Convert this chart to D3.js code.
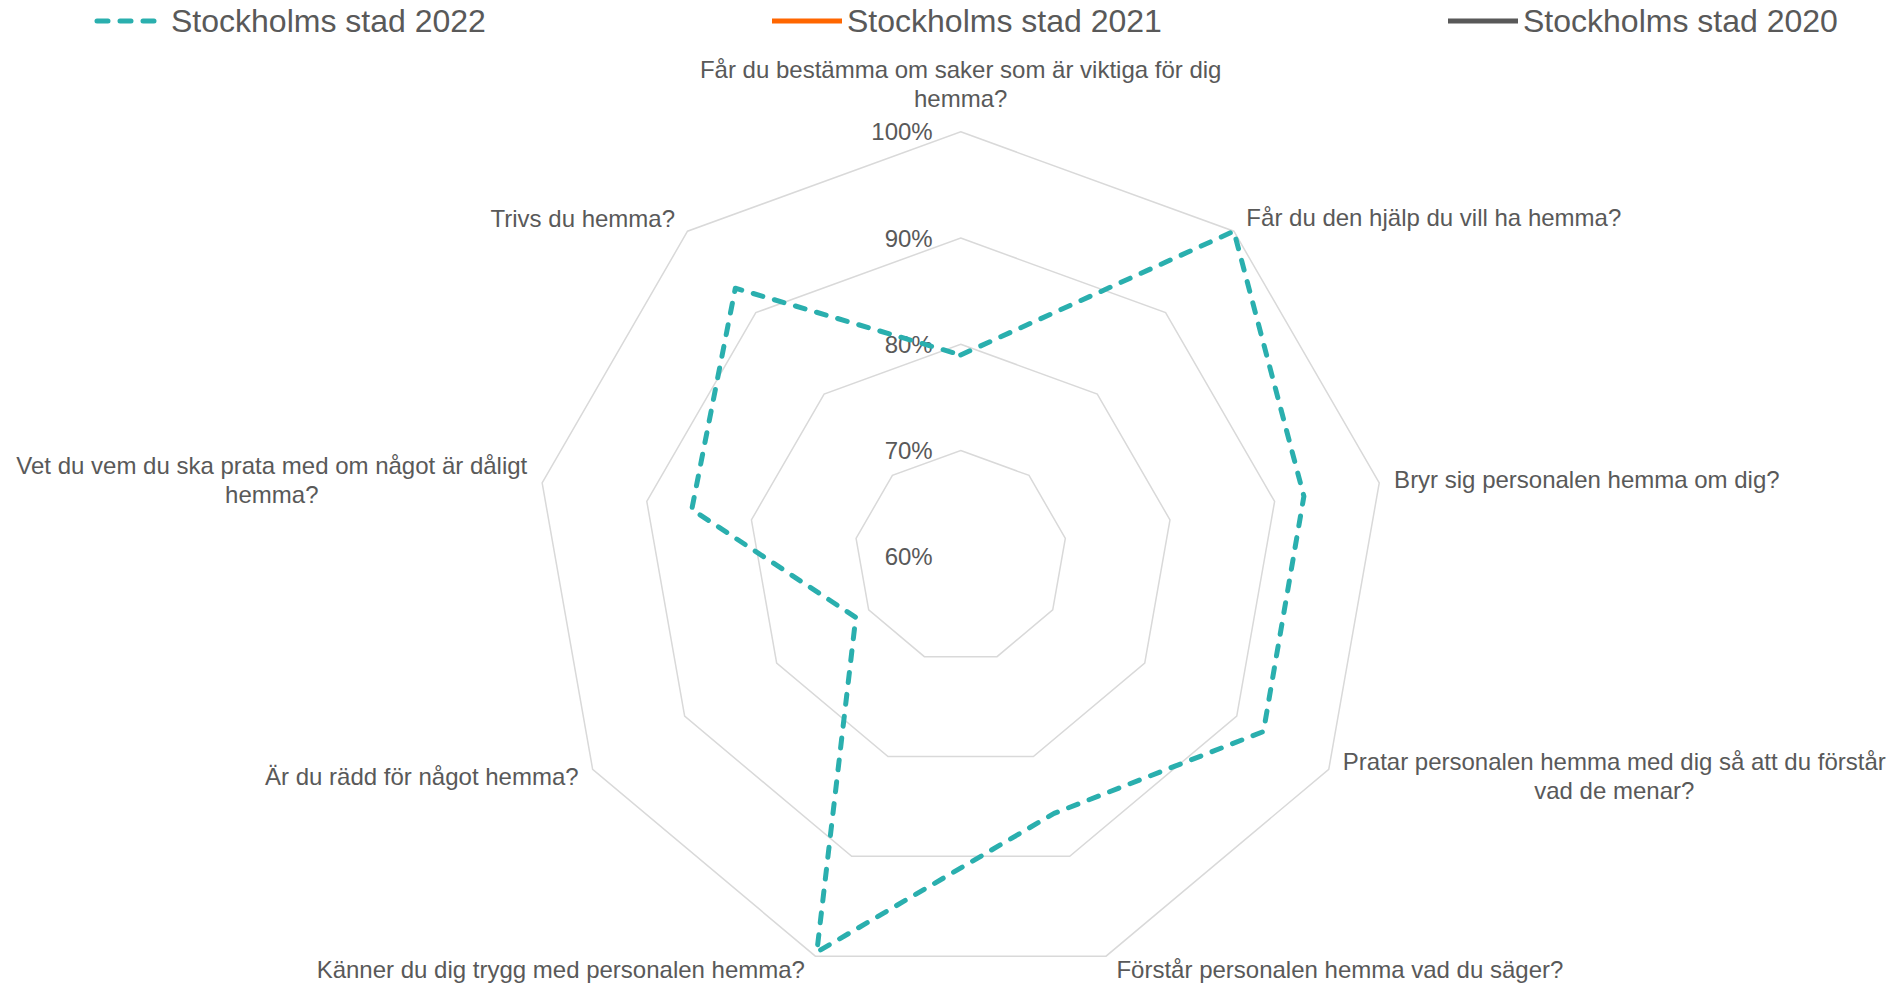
<!DOCTYPE html>
<html>
<head>
<meta charset="utf-8">
<script src="https://cdn.jsdelivr.net/npm/d3@7"></script>
<style>
	body { margin: 0; background: #fff; }
	svg { display: block; font-family: "Liberation Sans", Arial, sans-serif; }
	.grid-ring { fill: none; stroke: #d9d9d9; stroke-width: 1.5; }
	.tick-label, .axis-label, .legend-label { fill: #595959; }
</style>
</head>
<body>
<div id="chart"></div>
<script>
var questions = [
	"Får du bestämma om saker som är viktiga för dig hemma?",
	"Får du den hjälp du vill ha hemma?",
	"Bryr sig personalen hemma om dig?",
	"Pratar personalen hemma med dig så att du förstår vad de menar?",
	"Förstår personalen hemma vad du säger?",
	"Känner du dig trygg med personalen hemma?",
	"Är du rädd för något hemma?",
	"Vet du vem du ska prata med om något är dåligt hemma?",
	"Trivs du hemma?"
];

var values2022 = [0.790, 1.000, 0.928, 0.929, 0.857, 0.996, 0.714, 0.857, 0.930];

var seriesNames = ["Stockholms stad 2022", "Stockholms stad 2021", "Stockholms stad 2020"];
var seriesColors = ["#2aafae", "#ff6600", "#595959"];

var tickValues = [0.6, 0.7, 0.8, 0.9, 1.0];

var chart = {
	width: 1898,
	height: 983,
	cx: 960.7,
	cy: 556.8,
	radius: 425
};

var svg = d3.select("#chart")
	.append("svg")
	.attr("width", chart.width)
	.attr("height", chart.height);

var rScale = d3.scaleLinear()
	.domain([0.6, 1.0])
	.range([0, chart.radius]);

var aScale = d3.scaleLinear()
	.domain([0, questions.length])
	.range([0, 2 * Math.PI]);

var g = svg.append("g")
	.attr("transform", "translate(" + chart.cx + "," + chart.cy + ")");

// grid rings (no spokes in the original)
var ring = d3.lineRadial()
	.angle(function (d, i) { return aScale(i); })
	.radius(function (d) { return rScale(d); })
	.curve(d3.curveLinearClosed);

g.selectAll(".grid-ring")
	.data(tickValues.filter(function (t) { return t > 0.6; }))
	.enter().append("path")
	.attr("class", "grid-ring")
	.attr("d", function (t) { return ring(questions.map(function () { return t; })); });

// tick labels
g.selectAll(".tick-label")
	.data(tickValues)
	.enter().append("text")
	.attr("class", "tick-label")
	.attr("x", -28)
	.attr("y", function (t) { return -rScale(t); })
	.attr("text-anchor", "end")
	.attr("dominant-baseline", "central")
	.style("font-size", "24px")
	.text(d3.format(".0%"));

// data series
var seriesLine = d3.lineRadial()
	.angle(function (d, i) { return aScale(i); })
	.radius(function (d) { return rScale(d); })
	.curve(d3.curveLinearClosed);

g.append("path")
	.datum(values2022)
	.attr("d", seriesLine)
	.attr("fill", "none")
	.attr("stroke", seriesColors[0])
	.attr("stroke-width", 5)
	.attr("stroke-dasharray", "10 12")
	.attr("stroke-linecap", "round")
	.attr("stroke-linejoin", "round");

// category labels
var lineH = 29;
var wrapWidth = 570;

questions.forEach(function (q, i) {
	var a = aScale(i);
	var s = Math.sin(a), c = Math.cos(a);
	var vx = rScale(1) * s, vy = -rScale(1) * c;

	var t = g.append("text")
		.attr("class", "axis-label")
		.style("font-size", "24px");

	// wrap words into lines
	var words = q.split(" "), lines = [], cur = [];
	var probe = t.append("tspan");
	words.forEach(function (w) {
		cur.push(w);
		probe.text(cur.join(" "));
		if (probe.node().getComputedTextLength() > wrapWidth && cur.length > 1) {
			cur.pop();
			lines.push(cur.join(" "));
			cur = [w];
		}
	});
	lines.push(cur.join(" "));
	probe.remove();

	var tspans = t.selectAll("tspan")
		.data(lines)
		.enter().append("tspan")
		.text(function (d) { return d; });

	var blockW = d3.max(tspans.nodes(), function (n) { return n.getComputedTextLength(); });
	var blockH = lines.length * lineH;
	var pad = 8 + 7 * Math.abs(s);
	var centerX, centerY;

	if (Math.abs(s) < 0.1) {
		centerX = vx;
		centerY = vy - blockH / 2 - 19;
	} else if (s > 0) {
		centerX = vx + pad + blockW / 2;
		centerY = vy - c * (c > 0 ? 18 : 14);
	} else {
		centerX = vx - pad - blockW / 2;
		centerY = vy - c * (c > 0 ? 17 : 14);
	}

	tspans
		.attr("x", centerX)
		.attr("y", function (d, k) { return centerY - blockH / 2 + lineH * (k + 0.5); })
		.attr("text-anchor", "middle")
		.attr("dominant-baseline", "central");
});

// legend
var legendX = [94, 770, 1446];

var legend = svg.selectAll(".legend-item")
	.data(seriesNames)
	.enter().append("g")
	.attr("class", "legend-item")
	.attr("transform", function (d, i) { return "translate(" + legendX[i] + ",21)"; });

legend.append("line")
	.attr("x1", function (d, i) { return i === 0 ? 3 : 2; })
	.attr("x2", function (d, i) { return i === 0 ? 64 : 72; })
	.attr("y1", 0)
	.attr("y2", 0)
	.attr("stroke", function (d, i) { return seriesColors[i]; })
	.attr("stroke-width", 5)
	.attr("stroke-dasharray", function (d, i) { return i === 0 ? "11 12" : null; })
	.attr("stroke-linecap", function (d, i) { return i === 0 ? "round" : "butt"; });

legend.append("text")
	.attr("class", "legend-label")
	.attr("x", 77)
	.attr("y", 11)
	.style("font-size", "32px")
	.text(function (d) { return d; });
</script>
</body>
</html>
